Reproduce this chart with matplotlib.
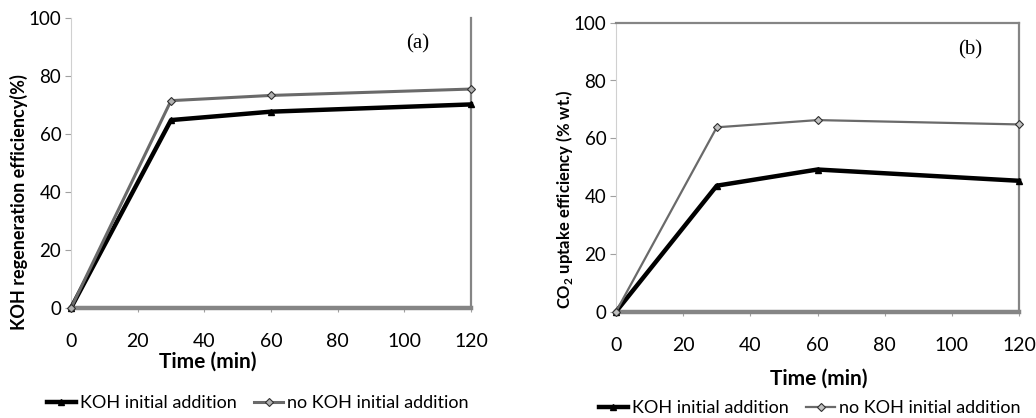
import matplotlib
matplotlib.use("Agg")
import matplotlib.pyplot as plt

plt.rcParams["font.family"] = ["Lato", "DejaVu Sans"]
plt.rcParams["mathtext.fontset"] = "custom"
plt.rcParams["mathtext.rm"] = "Lato"
plt.rcParams["mathtext.bf"] = "Lato:bold"

# data
time_min = [0, 30, 60, 120]
regen_koh = [0, 64.8, 67.7, 70.2]
regen_no_koh = [0, 71.5, 73.3, 75.5]
uptake_koh = [0, 43.6, 49.2, 45.3]
uptake_no_koh = [0, 63.8, 66.3, 64.8]
series_names = ["KOH initial addition", "no KOH initial addition"]
x_ticks = [0, 20, 40, 60, 80, 100, 120]
y_ticks = [0, 20, 40, 60, 80, 100]

W, H = 1036, 418
fig = plt.figure(figsize=(W / 100, H / 100), dpi=100)


def px_axes(left, top, right, bottom):
    return fig.add_axes([left / W, 1 - bottom / H, (right - left) / W, (bottom - top) / H])


def style_axes(ax, top_spine):
    ax.set_xlim(0, 120)
    ax.set_ylim(0, 100)
    ax.set_xticks(x_ticks)
    ax.set_yticks(y_ticks)
    ax.spines["left"].set_color("#d0d0d0")
    ax.spines["left"].set_linewidth(0.8)
    ax.spines["bottom"].set_color("#858585")
    ax.spines["bottom"].set_linewidth(3.2)
    ax.spines["right"].set_color("#858585")
    ax.spines["right"].set_linewidth(1.6)
    if top_spine:
        ax.spines["top"].set_color("#858585")
        ax.spines["top"].set_linewidth(1.6)
    else:
        ax.spines["top"].set_visible(False)
    ax.tick_params(axis="y", direction="out", length=4, width=0.8, color="#a0a0a0",
                   labelsize=13.5, pad=3)
    ax.tick_params(axis="x", direction="out", length=3, width=0.8, color="#a0a0a0",
                   labelsize=14, pad=15)


def draw(ax, koh, no_koh, no_koh_face, grey_lw):
    ax.plot(time_min, koh, color="black", lw=3.2, marker="^", ms=4,
            clip_on=False, zorder=3, label=series_names[0])
    ax.plot(time_min, no_koh, color="#6a6a6a", lw=grey_lw, marker="D", ms=4.5,
            mfc=no_koh_face, mec="#303030", mew=0.8, clip_on=False, zorder=4,
            label=series_names[1])


# panel (a)
ax0 = px_axes(71, 18, 471, 308)
style_axes(ax0, top_spine=False)
draw(ax0, regen_koh, regen_no_koh, "#b0b0b0", 2.2)
ax0.set_ylabel("KOH regeneration efficiency(%)", fontsize=13, fontweight="bold")
ax0.yaxis.set_label_coords(-0.108, 0.366)
ax0.set_xlabel("Time (min)", fontsize=15, fontweight="bold")
ax0.xaxis.set_label_coords(0.343, -0.152)
ax0.text(104, 91, "(a)", family="Liberation Serif", fontsize=15, ha="center", va="center")
ax0.legend(loc="center left", bbox_to_anchor=(38 / W, 1 - 403 / H),
           bbox_transform=fig.transFigure, ncol=2, frameon=False, fontsize=13,
           handlelength=1.6, handletextpad=0.2, columnspacing=1.0, borderpad=0)

# panel (b)
ax1 = px_axes(616, 22.7, 1019, 311.7)
style_axes(ax1, top_spine=True)
draw(ax1, uptake_koh, uptake_no_koh, "#c0c0c0", 1.6)
ax1.set_ylabel(r"CO$_\mathbf{2}$ uptake efficiency (% wt.)", fontsize=12, fontweight="bold")
ax1.yaxis.set_label_coords(-0.102, 0.39)
ax1.set_xlabel("Time (min)", fontsize=15, fontweight="bold")
ax1.xaxis.set_label_coords(0.504, -0.198)
ax1.text(105.4, 90.5, "(b)", family="Liberation Serif", fontsize=15, ha="center", va="center")
ax1.legend(loc="center left", bbox_to_anchor=(590 / W, 1 - 408 / H),
           bbox_transform=fig.transFigure, ncol=2, frameon=False, fontsize=13,
           handlelength=1.6, handletextpad=0.2, columnspacing=1.0, borderpad=0)

fig.savefig("out.png", dpi=100)
